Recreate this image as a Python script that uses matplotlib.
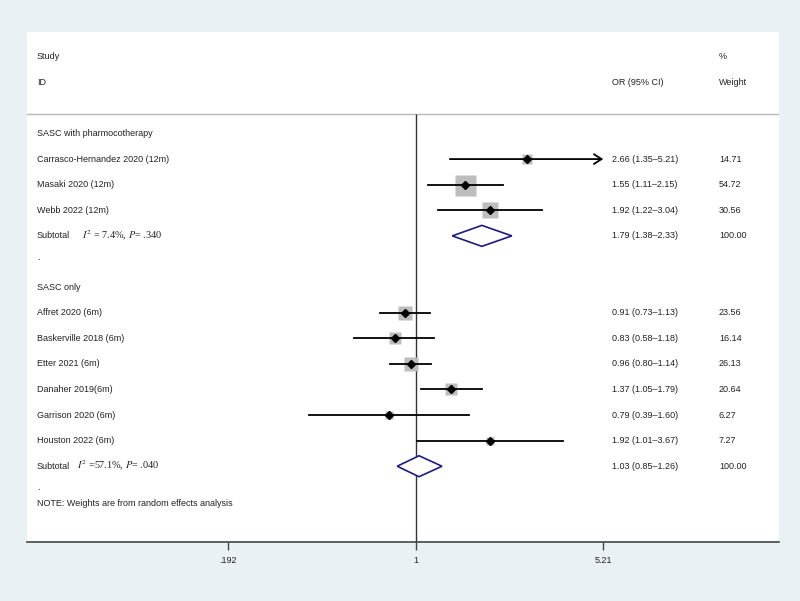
import numpy as np
import matplotlib.pyplot as plt
from matplotlib.patches import Polygon
from matplotlib.ticker import NullLocator

plt.rcParams['font.family'] = ['Liberation Sans', 'DejaVu Sans']
plt.rcParams['mathtext.fontset'] = 'stix'

# data
group_names = ['SASC with pharmocotherapy', 'SASC only']
studies_1 = ['Carrasco-Hernandez 2020 (12m)', 'Masaki 2020 (12m)', 'Webb 2022 (12m)']
or_1 = [2.66, 1.55, 1.92]
lo_1 = [1.35, 1.11, 1.22]
hi_1 = [5.21, 2.15, 3.04]
weight_1 = [14.71, 54.72, 30.56]

studies_2 = ['Affret 2020 (6m)', 'Baskerville 2018 (6m)', 'Etter 2021 (6m)',
             'Danaher 2019(6m)', 'Garrison 2020 (6m)', 'Houston 2022 (6m)']
or_2 = [0.91, 0.83, 0.96, 1.37, 0.79, 1.92]
lo_2 = [0.73, 0.58, 0.80, 1.05, 0.39, 1.01]
hi_2 = [1.13, 1.18, 1.14, 1.79, 1.60, 3.67]
weight_2 = [23.56, 16.14, 26.13, 20.64, 6.27, 7.27]

sub_or = [1.79, 1.03]
sub_lo = [1.38, 0.85]
sub_hi = [2.33, 1.26]
sub_het = [r'$I^2$ = 7.4%, $P$= .340', r'$I^2$ =57.1%, $P$= .040']

tick_vals = [0.192, 1, 5.21]
tick_labels = ['.192', '1', '5.21']

groups = [(studies_1, or_1, lo_1, hi_1, weight_1),
          (studies_2, or_2, lo_2, hi_2, weight_2)]

bg = '#eaf1f4'
txt = '#222222'
navy = '#1c1c7c'
fs = 6.45

fig = plt.figure(figsize=(8, 6.01), dpi=100, facecolor=bg)
ax = fig.add_axes([27 / 800, 59 / 601, 752 / 800, 510 / 601], facecolor='white')
ax.set_xscale('log')
ax.set_xlim(0.0327, 24.46)
ax.set_ylim(15.96, -3.965)

tr = ax.get_yaxis_transform()
col_label, col_ci, col_w = 0.0133, 0.778, 0.920

ax.text(col_label, -3, 'Study', transform=tr, fontsize=fs, color=txt, va='center')
ax.text(col_label, -2, 'ID', transform=tr, fontsize=fs, color=txt, va='center')
ax.text(col_ci, -2, 'OR (95% CI)', transform=tr, fontsize=fs, color=txt, va='center')
ax.text(col_w, -3, '%', transform=tr, fontsize=fs, color=txt, va='center')
ax.text(col_w, -2, 'Weight', transform=tr, fontsize=fs, color=txt, va='center')

ax.axhline(-0.76, color='#b8b8b8', lw=1)
ax.vlines(1, -0.76, 15.96, color='#333333', lw=1)

wmax = max(weight_1 + weight_2)
row = 0
for g, (names, est, lo, hi, w) in enumerate(groups):
    ax.text(col_label, row, group_names[g], transform=tr, fontsize=fs, color=txt, va='center')
    row += 1
    for name, e, l, h, wt in zip(names, est, lo, hi, w):
        ax.text(col_label, row, name, transform=tr, fontsize=fs, color=txt, va='center')
        side = 21 * np.sqrt(wt / wmax) * 0.72
        ax.plot(e, row, marker='s', ms=side, color='#bdbdbd', mec='none', zorder=2)
        if h >= tick_vals[-1]:
            ax.annotate('', xy=(h, row), xytext=(l, row),
                        arrowprops=dict(arrowstyle='->,head_length=0.55,head_width=0.35',
                                        color='black', lw=1.3, shrinkA=0, shrinkB=0), zorder=3)
        else:
            ax.plot([l, h], [row, row], color='black', lw=1.3, zorder=3)
        ax.plot(e, row, marker='D', ms=3.8, color='black', zorder=4)
        ax.text(col_ci, row, f'{e:.2f} ({l:.2f}\u2013{h:.2f})', transform=tr,
                fontsize=fs, color=txt, va='center')
        ax.text(col_w, row, f'{wt:.2f}', transform=tr, fontsize=fs, color=txt, va='center')
        row += 1
    # subtotal row with heterogeneity
    ax.text(col_label, row, 'Subtotal', transform=tr, fontsize=fs, color=txt, va='center')
    het_x = 0.073 if g == 0 else 0.066
    ax.text(het_x, row, sub_het[g], transform=tr, fontsize=7.4, color=txt, va='center',
            family='Liberation Serif')
    hh = 0.41
    diamond = Polygon([(sub_lo[g], row), (sub_or[g], row - hh), (sub_hi[g], row),
                       (sub_or[g], row + hh)], closed=True, facecolor='white',
                      edgecolor=navy, lw=1.2, zorder=3)
    ax.add_patch(diamond)
    ax.text(col_ci, row, f'{sub_or[g]:.2f} ({sub_lo[g]:.2f}\u2013{sub_hi[g]:.2f})',
            transform=tr, fontsize=fs, color=txt, va='center')
    ax.text(col_w, row, '100.00', transform=tr, fontsize=fs, color=txt, va='center')
    row += 1
    ax.text(col_label, row - 0.15, '.', transform=tr, fontsize=fs, color=txt, va='center')
    row += 1

ax.text(col_label, 14.45, 'NOTE: Weights are from random effects analysis', transform=tr,
        fontsize=fs, color=txt, va='center')

for s in ['top', 'left', 'right']:
    ax.spines[s].set_visible(False)
ax.spines['bottom'].set_color('#444444')
ax.spines['bottom'].set_linewidth(1.2)
ax.set_yticks([])
ax.set_xticks(tick_vals)
ax.set_xticklabels(tick_labels)
ax.xaxis.set_minor_locator(NullLocator())
ax.tick_params(axis='x', length=6, width=1, color='#444444', labelsize=fs,
               labelcolor=txt, pad=4)

fig.savefig('out.png', dpi=100, facecolor=bg)
